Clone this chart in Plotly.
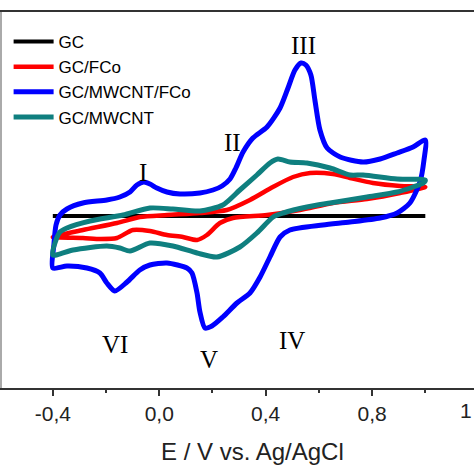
import plotly.graph_objects as go

# Potential (V vs Ag/AgCl) and current (arbitrary units) for each CV
gc_E = [-0.40, 0.00, 0.50, 1.00]
gc_I = [0.0, 0.0, 0.0, 0.0]

fco_E = [-0.400, -0.287, -0.159, -0.073, 0.029, 0.153, 0.254, 0.341, 0.427, 0.503, 0.567, 0.653,
         0.717, 0.803, 0.905, 1.000,
         0.905, 0.781, 0.653, 0.529, 0.405, 0.277, 0.228, 0.179, 0.142, 0.089, 0.029, -0.035,
         -0.099, -0.159, -0.220, -0.287, -0.400]
fco_I = [-2.1, -1.4, -0.7, -0.1, 0.1, 0.3, 0.6, 1.6, 2.9, 3.9, 4.3, 4.2,
         3.8, 3.3, 3.0, 2.9,
         2.3, 1.7, 1.3, 0.6, 0.1, -0.2, -0.7, -1.9, -2.4, -2.1, -1.9, -1.5,
         -1.4, -2.2, -2.3, -2.2, -2.1]

mwfco_E = [-0.400, -0.396, -0.388, -0.373, -0.347, -0.287, -0.197, -0.148, -0.110, -0.084, -0.058,
           -0.035, -0.009, 0.029, 0.078, 0.153, 0.202, 0.236, 0.266, 0.288, 0.315, 0.352, 0.405,
           0.454, 0.484, 0.510, 0.533, 0.551, 0.570, 0.585, 0.604, 0.631, 0.680, 0.766, 0.830,
           0.894, 0.954, 1.000,
           0.995, 0.980, 0.942, 0.894, 0.830, 0.717, 0.615, 0.491, 0.454, 0.416, 0.379, 0.341,
           0.292, 0.239, 0.198, 0.172, 0.153, 0.142, 0.123, 0.104, 0.029, -0.035, -0.073,
           -0.121, -0.167, -0.197, -0.223, -0.272, -0.347, -0.400]
mwfco_I = [-5.2, -2.9, -0.9, 0.1, 0.7, 1.3, 1.6, 1.9, 2.4, 3.1, 3.4,
           3.2, 2.8, 2.4, 2.2, 2.3, 2.6, 3.0, 3.7, 4.8, 6.4, 7.8, 8.9,
           10.8, 12.8, 14.6, 15.3, 15.1, 14.1, 11.6, 8.6, 6.8, 5.9, 5.4, 5.7,
           6.3, 6.9, 7.6,
           5.6, 3.4, 1.3, 0.3, -0.2, -0.6, -0.9, -1.4, -2.1, -4.1, -6.1, -7.7,
           -8.7, -10.1, -11.0, -11.2, -9.6, -7.7, -5.7, -5.2, -4.7, -4.9, -5.4,
           -6.6, -7.5, -6.7, -5.7, -5.2, -5.0, -5.2]

mw_E = [-0.400, -0.388, -0.373, -0.347, -0.260, -0.136, -0.035, 0.051, 0.153, 0.239, 0.303,
        0.367, 0.416, 0.446, 0.491, 0.555, 0.642, 0.717, 0.766, 0.894, 1.000,
        0.992, 0.954, 0.894, 0.781, 0.642, 0.555, 0.466, 0.428, 0.367, 0.303, 0.217, 0.142,
        0.051, -0.035, -0.110, -0.148, -0.197, -0.324, -0.400]
mw_I = [-3.9, -2.4, -1.6, -1.2, -0.5, 0.1, 0.8, 0.7, 0.5, 1.1, 2.6,
        4.1, 5.3, 5.7, 5.4, 5.3, 4.8, 4.1, 4.1, 3.7, 3.6,
        3.3, 2.9, 2.4, 1.9, 1.3, 0.9, 0.3, -0.1, -1.7, -3.1, -4.1, -3.7,
        -3.0, -2.7, -3.5, -3.2, -3.0, -3.4, -3.9]

series = [
    ("GC", gc_E, gc_I, "#000000", 4),
    ("GC/FCo", fco_E, fco_I, "#FF0000", 4.5),
    ("GC/MWCNT/FCo", mwfco_E, mwfco_I, "#0000FF", 5),
    ("GC/MWCNT", mw_E, mw_I, "#0F7F7F", 5),
]

tick_vals = [-0.4, 0.0, 0.4, 0.8]
tick_text = ["-0,4", "0,0", "0,4", "0,8"]

peak_labels = ["I", "II", "III", "IV", "V", "VI"]
peak_E = [-0.061, 0.274, 0.544, 0.498, 0.188, -0.167]
peak_I = [4.4, 7.4, 17.1, -12.4, -14.3, -12.8]

fig = go.Figure()
for name, E, I, color, w in series:
    fig.add_trace(go.Scatter(x=E, y=I, mode="lines", name=name,
                             line=dict(color=color, width=w, shape="spline", smoothing=0.7)))

for lab, e, i in zip(peak_labels, peak_E, peak_I):
    fig.add_annotation(x=e, y=i, text=lab, showarrow=False, xref="x", yref="y",
                       font=dict(family="Liberation Serif", size=25, color="#000000"))

# partially visible next tick label at the right edge
fig.add_annotation(x=1.0, y=-0.061, xref="paper", yref="paper", text="1", showarrow=False,
                   xanchor="right", yanchor="middle",
                   font=dict(family="Liberation Sans", size=21, color="#222222"))
fig.add_annotation(x=0.530, y=-0.170, xref="paper", yref="paper", text="E / V vs. Ag/AgCl",
                   showarrow=False, xanchor="center", yanchor="middle",
                   font=dict(family="Liberation Sans", size=24, color="#222222"))

fig.update_layout(
    width=474, height=474,
    margin=dict(l=2, r=0, t=12, b=86),
    paper_bgcolor="white", plot_bgcolor="white",
    showlegend=True,
    legend=dict(x=0.014, y=0.968, xanchor="left", yanchor="top", itemwidth=40,
                bgcolor="rgba(0,0,0,0)", font=dict(family="Liberation Sans", size=17, color="#000000"),
                tracegroupgap=0),
    xaxis=dict(range=[-0.591, 1.183], tickvals=tick_vals, ticktext=tick_text,
               showline=True, linecolor="#333333", linewidth=2, mirror=True,
               ticks="outside", ticklen=6, tickwidth=2, tickcolor="#333333",
               minor=dict(ticks="outside", ticklen=3, tickwidth=2, dtick=0.2, tick0=-0.4,
                          tickcolor="#333333"),
               showgrid=False, zeroline=False,
               tickfont=dict(family="Liberation Sans", size=21, color="#222222")),
    yaxis=dict(range=[-17.2, 20.4], showline=True, linecolor="#AAAAAA", linewidth=2,
               showticklabels=False, ticks="", showgrid=False, zeroline=False),
)

fig.write_html("out.html", config={"displayModeBar": False},
               post_script="document.body.style.margin='0';document.body.style.overflow='hidden';")
